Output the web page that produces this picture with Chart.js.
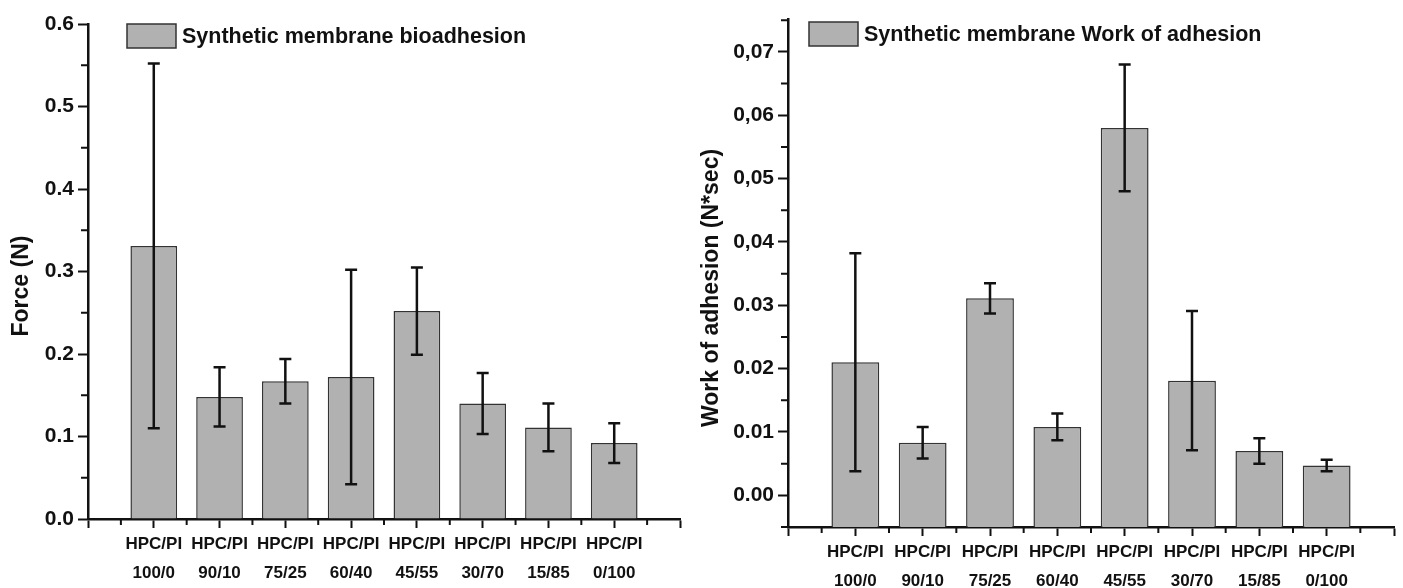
<!DOCTYPE html>
<html>
<head>
<meta charset="utf-8">
<title>Synthetic membrane bioadhesion / Work of adhesion</title>
<script src="https://cdn.jsdelivr.net/npm/chart.js@4.4.1/dist/chart.umd.min.js"></script>
<style>
  html, body { margin: 0; padding: 0; background: #fff; }
  #page { position: relative; width: 1403px; height: 588px; overflow: hidden; }
  .panel { position: absolute; top: 0; height: 588px; }
  #forcePanel { left: 0; width: 690px; }
  #workPanel { left: 690px; width: 713px; }
</style>
</head>
<body>
<div id="page">
  <div class="panel" id="forcePanel"><canvas id="forceChart"></canvas></div>
  <div class="panel" id="workPanel"><canvas id="workChart"></canvas></div>
</div>
<script>
// HPC/PI blend ratios, one bar per ratio
const blendPrefix = 'HPC/PI';
const ratios = ['100/0', '90/10', '75/25', '60/40', '45/55', '30/70', '15/85', '0/100'];

// bioadhesion force (N), mean and SD
const forceMean = [0.331, 0.148, 0.167, 0.172, 0.252, 0.140, 0.111, 0.092];
const forceSD = [0.221, 0.036, 0.027, 0.130, 0.053, 0.037, 0.029, 0.024];

// work of adhesion (N*sec), mean and SD
const workMean = [0.0210, 0.0083, 0.0311, 0.0108, 0.0580, 0.0181, 0.0070, 0.0047];
const workSD = [0.0172, 0.0025, 0.0024, 0.0021, 0.0100, 0.0110, 0.0020, 0.0009];

const forceTicks = ['0.0', '0.1', '0.2', '0.3', '0.4', '0.5', '0.6'];
const workTicks = ['0.00', '0.01', '0.02', '0.03', '0,04', '0,05', '0,06', '0,07'];

const FONT = '"Liberation Sans", Arial, Helvetica, sans-serif';
const INK = '#111';

Chart.defaults.font.family = FONT;
Chart.defaults.font.weight = 'bold';
Chart.defaults.color = INK;

// vertical SD whiskers with caps
const errorBars = {
    id: 'errorBars',
    afterDatasetsDraw(chart) {
        const { ctx, scales: { x, y } } = chart;
        ctx.save();
        ctx.strokeStyle = INK;
        ctx.lineWidth = 2.5;
        chart.data.datasets.forEach(ds => {
            ds.data.forEach((pt, i) => {
                const px = x.getPixelForValue(pt.x);
                const hi = y.getPixelForValue(pt.y + ds.errors[i]);
                const lo = y.getPixelForValue(pt.y - ds.errors[i]);
                ctx.beginPath();
                ctx.moveTo(px, hi); ctx.lineTo(px, lo);
                ctx.moveTo(px - 6, hi); ctx.lineTo(px + 6, hi);
                ctx.moveTo(px - 6, lo); ctx.lineTo(px + 6, lo);
                ctx.stroke();
            });
        });
        ctx.restore();
    }
};

// short ticks halfway between the major ones
const minorTicks = {
    id: 'minorTicks',
    afterDraw(chart, args, opts) {
        const { ctx, scales: { x, y } } = chart;
        ctx.save();
        ctx.strokeStyle = INK;
        ctx.lineWidth = 2;
        ctx.beginPath();
        for (let v = opts.xStart; v < x.max; v += opts.xStep) {
            const px = x.getPixelForValue(v);
            ctx.moveTo(px, y.bottom);
            ctx.lineTo(px, y.bottom + opts.xLen);
        }
        for (let v = opts.yStart; v <= y.max + 1e-9; v += opts.yStep) {
            const py = y.getPixelForValue(v);
            ctx.moveTo(x.left, py);
            ctx.lineTo(x.left - opts.yLen, py);
        }
        ctx.stroke();
        ctx.restore();
    }
};

// Origin-style legend sitting inside the plot
const boxLegend = {
    id: 'boxLegend',
    afterDraw(chart, args, opts) {
        const { ctx, chartArea } = chart;
        const ds = chart.data.datasets[0];
        const bx = chartArea.left + opts.dx;
        const by = chartArea.top + opts.dy;
        ctx.save();
        ctx.fillStyle = ds.backgroundColor;
        ctx.fillRect(bx, by, 49, 24);
        ctx.strokeStyle = ds.borderColor;
        ctx.lineWidth = 1.5;
        ctx.strokeRect(bx, by, 49, 24);
        ctx.fillStyle = INK;
        ctx.font = `bold 21.5px ${FONT}`;
        ctx.textBaseline = 'middle';
        ctx.fillText(ds.label, bx + 55, by + 13);
        ctx.restore();
    }
};

// rotated y-axis title
const sideTitle = {
    id: 'sideTitle',
    afterDraw(chart, args, opts) {
        const { ctx } = chart;
        ctx.save();
        ctx.translate(opts.x, opts.y);
        ctx.rotate(-Math.PI / 2);
        ctx.fillStyle = INK;
        ctx.font = `bold 23px ${FONT}`;
        ctx.textAlign = 'center';
        ctx.textBaseline = 'middle';
        ctx.fillText(opts.text, 0, 0);
        ctx.restore();
    }
};

function makePanel(canvasId, cfg) {
    const ctx = document.getElementById(canvasId).getContext('2d');
    return new Chart(ctx, {
        type: 'bar',
        data: {
            datasets: [{
                label: cfg.label,
                data: cfg.means.map((v, i) => ({ x: i + 1, y: v })),
                errors: cfg.errors,
                base: cfg.yMin,
                backgroundColor: '#b1b1b1',
                borderColor: '#333',
                borderWidth: 1.5,
                barPercentage: 0.71,
                categoryPercentage: 1
            }]
        },
        options: {
            responsive: true,
            maintainAspectRatio: false,
            animation: false,
            layout: { padding: cfg.padding },
            plugins: {
                legend: { display: false },
                tooltip: { enabled: false },
                minorTicks: { xStart: 0.5, xStep: 1, xLen: 6, yStart: cfg.minorStart, yStep: cfg.yStep, yLen: 7 },
                boxLegend: { dx: cfg.legendDx, dy: cfg.legendDy },
                sideTitle: { text: cfg.yTitle, x: 22, y: cfg.titleY }
            },
            scales: {
                x: {
                    type: 'linear',
                    min: 0,
                    max: 9,
                    offset: false,
                    afterFit: s => { s.height = cfg.xHeight; },
                    border: { display: true, color: INK, width: 2.5 },
                    grid: { display: true, offset: false, drawOnChartArea: false, tickLength: 9, tickWidth: 2, tickColor: INK, color: INK },
                    ticks: {
                        stepSize: 1,
                        autoSkip: false,
                        maxRotation: 0,
                        padding: 2,
                        font: { size: 17, weight: 'bold', lineHeight: 1.7 },
                        callback: v => (v >= 1 && v <= ratios.length) ? [blendPrefix, ratios[v - 1]] : ''
                    }
                },
                y: {
                    min: cfg.yMin,
                    max: cfg.yMax,
                    afterFit: s => { s.width = cfg.yWidth; },
                    border: { display: true, color: INK, width: 2.5 },
                    grid: { display: true, drawOnChartArea: false, tickLength: 10, tickWidth: 2, tickColor: INK, color: INK },
                    ticks: {
                        stepSize: cfg.yStep,
                        includeBounds: false,
                        padding: 4,
                        font: { size: 21, weight: 'bold' },
                        callback: v => cfg.tickLabels[Math.round(v / cfg.yStep)]
                    }
                }
            }
        },
        plugins: [errorBars, minorTicks, boxLegend, sideTitle]
    });
}

makePanel('forceChart', {
    label: 'Synthetic membrane bioadhesion',
    yTitle: 'Force (N)',
    means: forceMean,
    errors: forceSD,
    tickLabels: forceTicks,
    yMin: 0, yMax: 0.6, yStep: 0.1, minorStart: 0.05,
    padding: { top: 24, right: 10, left: 0, bottom: 0 },
    xHeight: 69, yWidth: 88,
    legendDx: 39, legendDy: 0,
    titleY: 286
});

makePanel('workChart', {
    label: 'Synthetic membrane Work of adhesion',
    yTitle: 'Work of adhesion (N*sec)',
    means: workMean,
    errors: workSD,
    tickLabels: workTicks,
    yMin: -0.005, yMax: 0.0752, yStep: 0.01, minorStart: -0.005,
    padding: { top: 19, right: 9, left: 0, bottom: 0 },
    xHeight: 61, yWidth: 98,
    legendDx: 21, legendDy: 3,
    titleY: 288
});
</script>
</body>
</html>
